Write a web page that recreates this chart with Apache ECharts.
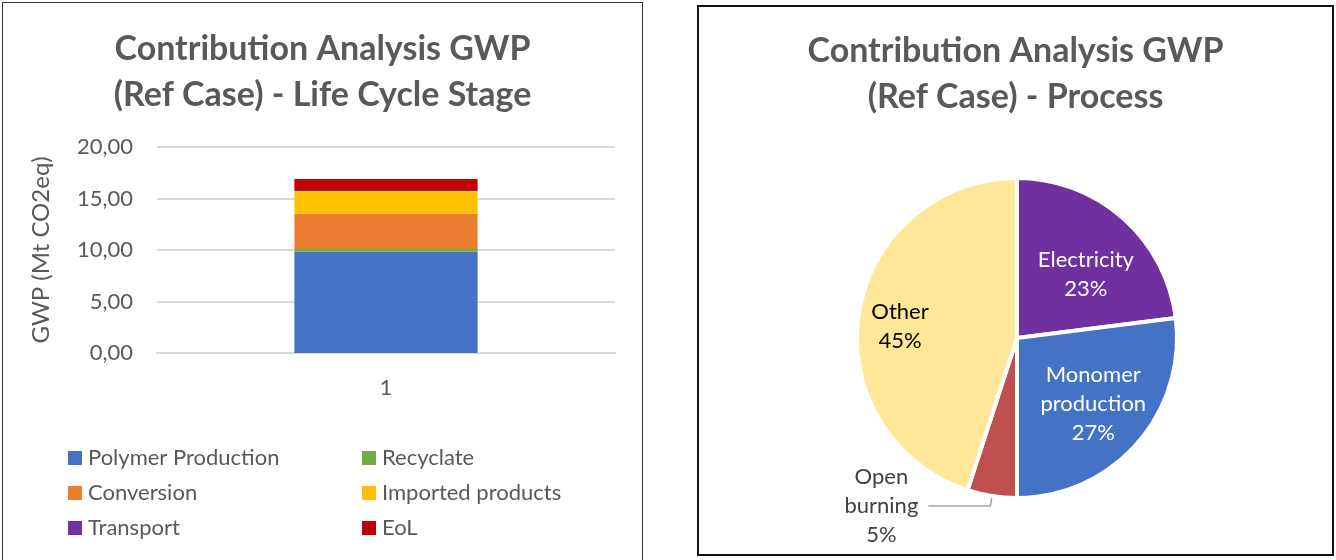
<!DOCTYPE html>
<html>
<head>
<meta charset="utf-8">
<script src="https://cdn.jsdelivr.net/npm/echarts@6/dist/echarts.min.js"></script>
<style>
  html, body { margin: 0; padding: 0; background: #fff; overflow: hidden; width: 1336px; height: 560px; }
  .panel { position: absolute; box-sizing: border-box; background: #fff; }
  #left { left: 2px; top: 2px; width: 641px; height: 620px; border: 1px solid #333; }
  #right { left: 697px; top: 5px; width: 637px; height: 551px; border: 2px solid #111; }
  .chart { width: 100%; height: 100%; }
</style>
</head>
<body>
<div class="panel" id="left"><div class="chart" id="barChart"></div></div>
<div class="panel" id="right"><div class="chart" id="pieChart"></div></div>
<script>
// stacked bar: life cycle stages (Mt CO2eq)
const barCategories = ["1"];
const stageNames = ["Polymer Production", "Recyclate", "Conversion", "Imported products", "Transport", "EoL"];
const polymerProduction = [9.83];
const recyclate = [0.27];
const conversion = [3.42];
const importedProducts = [2.21];
const transport = [0.1];
const eol = [1.06];
const yTicks = { min: 0, max: 20, interval: 5 };

// pie: process shares (%)
const processNames = ["Electricity", "Monomer production", "Open burning", "Other"];
const processShares = [23, 27, 5, 45];

const FONT = "Lato, 'Liberation Sans', sans-serif";
const GREY = "#595959";
const stageColors = ["#4472C4", "#70AD47", "#ED7D31", "#FFC000", "#7030A0", "#C00000"];
const stageValues = [polymerProduction, recyclate, conversion, importedProducts, transport, eol];

const legendBase = {
  orient: "vertical", top: 438,
  itemWidth: 14, itemHeight: 14, itemGap: 11,
  icon: "rect",
  textStyle: { fontFamily: FONT, fontSize: 22, color: GREY, lineHeight: 24, padding: [0, 0, 0, 1] },
};

const barChart = echarts.init(document.getElementById("barChart"));
barChart.setOption({
  textStyle: { fontFamily: FONT },
  title: {
    text: "Contribution Analysis GWP\n(Ref Case) - Life Cycle Stage",
    left: "center",
    top: 18,
    textStyle: { fontFamily: FONT, fontSize: 34, fontWeight: "bold", color: GREY, lineHeight: 46 },
  },
  legend: [
    Object.assign({}, legendBase, { left: 60, data: [stageNames[0], stageNames[2], stageNames[4]] }),
    Object.assign({}, legendBase, { left: 354, data: [stageNames[1], stageNames[3], stageNames[5]] }),
  ],
  grid: { left: 154, top: 144, width: 458, height: 206 },
  xAxis: {
    type: "category",
    data: barCategories,
    axisLine: { lineStyle: { color: "#d9d9d9", width: 2 } },
    axisTick: { show: false },
    axisLabel: { fontFamily: FONT, fontSize: 22, color: GREY, margin: 24 },
  },
  yAxis: {
    type: "value",
    min: yTicks.min, max: yTicks.max, interval: yTicks.interval,
    name: "GWP (Mt CO2eq)",
    nameLocation: "middle",
    nameGap: 104,
    nameTextStyle: { fontFamily: FONT, fontSize: 24, color: GREY },
    axisLabel: {
      fontFamily: FONT, fontSize: 22, color: GREY, margin: 24,
      formatter: (v) => v.toFixed(2).replace(".", ","),
    },
    splitLine: { lineStyle: { color: "#d9d9d9", width: 2 } },
  },
  series: stageNames.map((name, i) => ({
    name: name,
    type: "bar",
    stack: "total",
    barWidth: "40%",
    itemStyle: { color: stageColors[i] },
    data: stageValues[i],
  })),
});

const pieColors = ["#7030A0", "#4472C4", "#C0504D", "#FFE699"];
// per-slice label look (Excel places inside labels further out than ECharts)
const pieLabelStyle = [
  { color: "#fff", offset: [14, -1] },
  { color: "#fff", offset: [14, 11] },
  { color: "#404040", outside: true },
  { color: "#000", offset: [-35, 1] },
];

const pieChart = echarts.init(document.getElementById("pieChart"));
pieChart.setOption({
  textStyle: { fontFamily: FONT },
  title: {
    text: "Contribution Analysis GWP\n(Ref Case) - Process",
    left: "center",
    top: 16,
    textStyle: { fontFamily: FONT, fontSize: 34, fontWeight: "bold", color: GREY, lineHeight: 46 },
  },
  series: [{
    type: "pie",
    center: [318, 331],
    radius: 160,
    startAngle: 90,
    clockwise: true,
    avoidLabelOverlap: false,
    itemStyle: { borderColor: "#fff", borderWidth: 4 },
    label: {
      position: "inside",
      fontFamily: FONT,
      fontSize: 22,
      lineHeight: 29,
      formatter: (p) => p.name.split(" ").join("\n") + "\n" + Math.round(p.percent) + "%",
    },
    data: processNames.map((name, i) => {
      const s = pieLabelStyle[i];
      const item = { name: name, value: processShares[i], itemStyle: { color: pieColors[i] } };
      if (s.outside) {
        item.label = {
          position: "outside",
          color: s.color,
          formatter: (p) => p.name.split(" ").concat(Math.round(p.percent) + "%").map((t) => "{c|" + t + "}").join("\n"),
          rich: { c: { width: 84, align: "center", fontSize: 22, lineHeight: 29, color: s.color, fontFamily: FONT } },
        };
        item.labelLine = { show: true, length: 10, length2: 62, lineStyle: { color: "#a6a6a6", width: 1.5 } };
      } else {
        item.label = { color: s.color, offset: s.offset };
      }
      return item;
    }),
  }],
});
</script>
</body>
</html>
